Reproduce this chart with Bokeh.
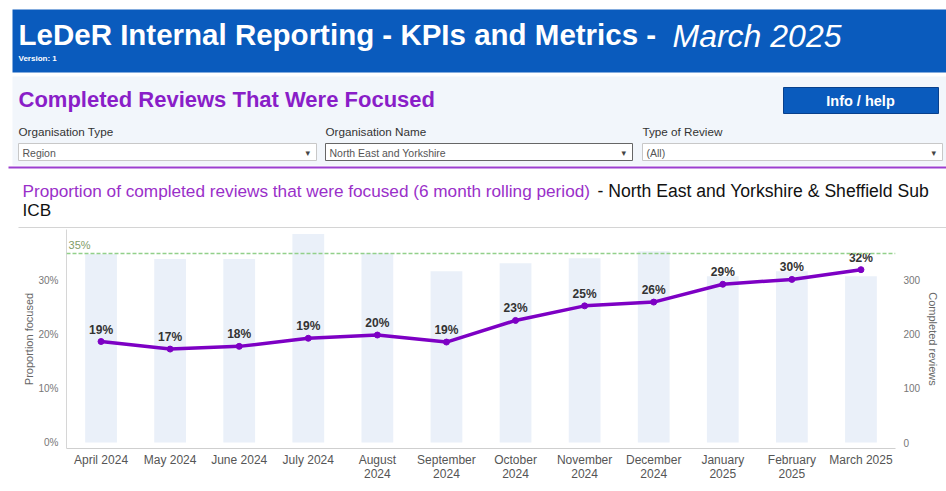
from bokeh.plotting import figure
from bokeh.models import (ColumnDataSource, Range1d, FactorRange, LinearAxis,
                          Span, Label, FixedTicker)
from bokeh.embed import file_html
from bokeh.resources import INLINE
from bokeh.core.properties import value

# ---------------- data ----------------
months = ["April 2024", "May 2024", "June 2024", "July 2024", "August\n2024",
          "September\n2024", "October\n2024", "November\n2024", "December\n2024",
          "January\n2025", "February\n2025", "March 2025"]
pct_focused = [18.7, 17.3, 17.8, 19.3, 19.9, 18.6, 22.6, 25.3, 26.0, 29.3, 30.2, 32.0]
completed_reviews = [349, 340, 340, 386, 351, 317, 332, 341, 354, 308, 317, 308]
target_pct = 35
pct_ticks = [0, 10, 20, 30]
count_ticks = [0, 100, 200, 300]

FONT = "Liberation Sans"
W = 946
TOP_H = 228      # header strip
CHART_H = 255    # chart strip
FOOT_H = 8       # footer strip


def deco_fig(h):
    f = figure(width=W, height=h, x_range=Range1d(0, W), y_range=Range1d(h, 0),
               output_backend="svg", toolbar_location=None, min_border=0,
               outline_line_color=None, x_axis_type=None, y_axis_type=None)
    f.grid.visible = False
    return f


def box(f, l, r, t, b, fill, line=None, lw=1):
    f.quad(left=[l], right=[r], top=[t], bottom=[b], fill_color=fill,
           line_color=line, line_width=lw)


def label(f, x, y, text, size, color, style="normal", font=FONT, align="left"):
    f.add_layout(Label(x=x, y=y, text=text, text_font=font, text_font_size=size,
                       text_font_style=style, text_color=color, text_align=align,
                       text_baseline="middle"))


# ---------------- header strip ----------------
p1 = deco_fig(TOP_H)

box(p1, 12, 946, 9, 72, "#0a5bbd")
label(p1, 18, 34, "LeDeR Internal Reporting - KPIs and Metrics -", "29.5px", "white", "bold")
label(p1, 672, 35, "March 2025", "32px", "white", "italic")
label(p1, 18, 58, "Version: 1", "8px", "white", "bold")

box(p1, 12, 946, 76, 165, "#f2f6fb")
label(p1, 18, 99, "Completed Reviews That Were Focused", "22px", "#8a1ec8", "bold")

box(p1, 783, 938, 87, 113, "#0a5bbd", "#08408c")
label(p1, 860, 100, "Info / help", "14.5px", "white", "bold", align="center")

filters = [("Organisation Type", "Region", 18, 316, "#c8c8c8"),
           ("Organisation Name", "North East and Yorkshire", 325, 632, "#666666"),
           ("Type of Review", "(All)", 642, 942, "#c8c8c8")]
for lab, val, x0, x1, bc in filters:
    label(p1, x0, 131, lab, "11.7px", "#333333")
    box(p1, x0, x1, 143, 160, "white", bc)
    label(p1, x0 + 4, 152, val, "10.5px", "#555555")
    label(p1, x1 - 11, 152, "\u25be", "9px", "#444444", font="DejaVu Sans")

box(p1, 8, 946, 166, 168, "#9b3fd0")

label(p1, 22, 190, "Proportion of completed reviews that were focused (6 month rolling period)",
      "17.2px", "#9a2fc9")
label(p1, 597, 190, "- North East and Yorkshire & Sheffield Sub", "17.6px", "#111111")
label(p1, 22, 209, "ICB", "17.2px", "#111111")

box(p1, 18, 946, 226.5, 228, "#d4d4d4")

# ---------------- chart strip ----------------
src = ColumnDataSource(dict(
    month=months,
    pct=pct_focused,
    completed=completed_reviews,
    label=[f"{round(v)}%" for v in pct_focused],
))

p2 = figure(width=W, height=CHART_H, x_range=FactorRange(*months),
            y_range=Range1d(-1.11, 39.44),
            output_backend="svg", toolbar_location=None,
            min_border_left=66, min_border_right=51, min_border_top=1,
            min_border_bottom=35, outline_line_color=None)
p2.extra_y_ranges = {"count": Range1d(-11.1, 394.4)}
p2.grid.visible = False

p2.vbar(x="month", top="completed", bottom=0, width=0.46, source=src,
        y_range_name="count", fill_color="#eaf0f9", line_color=None)

p2.add_layout(Span(location=target_pct, dimension="width", line_color="#92d08a",
                   line_dash="4 2", line_width=1.5))
p2.text(x=[0.03], y=[target_pct], text=[f"{target_pct}%"], y_offset=-2,
        text_font=value(FONT), text_font_size="11px", text_color="#7f9c68",
        text_baseline="bottom")

p2.line(x="month", y="pct", source=src, line_color="#7d00c4", line_width=3.5)
p2.scatter(x="month", y="pct", source=src, size=6, fill_color="#7d00c4",
           line_color="#7d00c4")
p2.text(x="month", y="pct", text="label", source=src, y_offset=-5,
        text_align="center", text_baseline="bottom", text_font=value(FONT),
        text_font_size="12px", text_font_style="bold", text_color="#333333")

ya = p2.yaxis[0]
ya.ticker = FixedTicker(ticks=pct_ticks)
ya.major_label_overrides = {t: f"{t}%" for t in pct_ticks}
ya.axis_label = "Proportion focused"

ra = LinearAxis(y_range_name="count", ticker=FixedTicker(ticks=count_ticks),
                axis_label="Completed reviews")
p2.add_layout(ra, "right")

for ax in (ya, ra):
    ax.major_tick_line_color = None
    ax.minor_tick_line_color = None
    ax.major_tick_out = 0
    ax.major_tick_in = 0
    ax.minor_tick_out = 0
    ax.major_label_text_font = FONT
    ax.major_label_text_font_size = "10px"
    ax.major_label_text_color = "#777777"
    ax.major_label_standoff = 8
    ax.axis_label_text_font = FONT
    ax.axis_label_text_font_size = "11px"
    ax.axis_label_text_font_style = "normal"
    ax.axis_label_text_color = "#666666"
ya.axis_label_standoff = 0
ra.axis_label_standoff = 4
ya.axis_line_color = "#d6d6d6"
ra.axis_line_color = None

xa = p2.xaxis[0]
xa.major_tick_line_color = None
xa.minor_tick_line_color = None
xa.major_tick_out = 0
xa.major_tick_in = 0
xa.minor_tick_out = 0
xa.axis_line_color = "#cfcfcf"
xa.major_label_text_font = FONT
xa.major_label_text_font_size = "12px"
xa.major_label_text_color = "#555555"
xa.major_label_text_line_height = 1.0
xa.major_label_standoff = 4

# ---------------- footer strip ----------------
p3 = deco_fig(FOOT_H)
box(p3, 8, 946, 5, 7, "#9b3fd0")

open("out.html", "w").write(file_html([p1, p2, p3], INLINE))
